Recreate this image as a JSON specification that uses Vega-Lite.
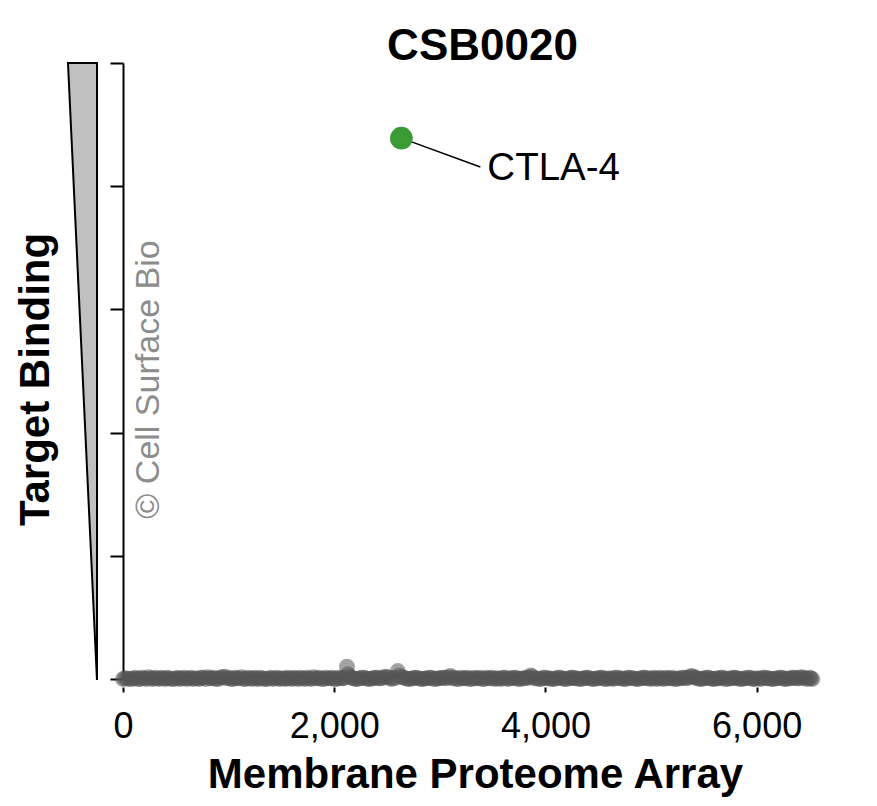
{
  "$schema": "https://vega.github.io/schema/vega-lite/v6.json",
  "width": 697,
  "height": 616,
  "autosize": {"type": "none"},
  "padding": {"left": 123, "top": 63, "right": 57, "bottom": 127},
  "background": "white",
  "title": {
    "text": "CSB0020",
    "font": "Liberation Sans",
    "fontSize": 44,
    "fontWeight": "bold",
    "color": "black",
    "anchor": "middle",
    "frame": "group",
    "baseline": "alphabetic",
    "offset": -45,
    "dx": 11
  },
  "config": {
    "view": {"stroke": null},
    "font": "Liberation Sans",
    "axis": {
      "grid": false,
      "labelFont": "Liberation Sans",
      "titleFont": "Liberation Sans",
      "labelColor": "black",
      "titleColor": "black",
      "tickColor": "black",
      "domainColor": "black",
      "tickWidth": 2,
      "domainWidth": 2
    }
  },
  "datasets": {
    "mpa": [
      {"x": 0, "y": 0}, {"x": 38, "y": 0.005}, {"x": 81, "y": 0}, {"x": 119, "y": 0.01}, {"x": 162, "y": 0},
      {"x": 200, "y": 0.005}, {"x": 243, "y": 0.015}, {"x": 281, "y": 0}, {"x": 320, "y": 0.005}, {"x": 362, "y": 0.01},
      {"x": 401, "y": 0}, {"x": 440, "y": 0.005}, {"x": 483, "y": 0}, {"x": 521, "y": 0.01}, {"x": 560, "y": 0.005},
      {"x": 602, "y": 0}, {"x": 641, "y": 0.01}, {"x": 683, "y": 0.005}, {"x": 722, "y": 0}, {"x": 760, "y": 0.01},
      {"x": 803, "y": 0.015}, {"x": 841, "y": 0.005}, {"x": 880, "y": 0}, {"x": 922, "y": 0.01}, {"x": 961, "y": 0.02},
      {"x": 1003, "y": 0.01}, {"x": 1042, "y": 0}, {"x": 1080, "y": 0.005}, {"x": 1122, "y": 0.015}, {"x": 1161, "y": 0},
      {"x": 1203, "y": 0.005}, {"x": 1242, "y": 0.01}, {"x": 1280, "y": 0}, {"x": 1321, "y": 0.005}, {"x": 1360, "y": 0},
      {"x": 1402, "y": 0.01}, {"x": 1441, "y": 0.005}, {"x": 1483, "y": 0}, {"x": 1522, "y": 0.005}, {"x": 1560, "y": 0.01},
      {"x": 1602, "y": 0}, {"x": 1641, "y": 0.005}, {"x": 1680, "y": 0.01}, {"x": 1722, "y": 0}, {"x": 1761, "y": 0.005},
      {"x": 1802, "y": 0.015}, {"x": 1840, "y": 0.005}, {"x": 1881, "y": 0}, {"x": 1920, "y": 0.01}, {"x": 1962, "y": 0.005},
      {"x": 2001, "y": 0}, {"x": 2040, "y": 0.01}, {"x": 2082, "y": 0.005}, {"x": 2121, "y": 0.1}, {"x": 2130, "y": 0.04},
      {"x": 2148, "y": 0.02}, {"x": 2163, "y": 0.01}, {"x": 2202, "y": 0}, {"x": 2240, "y": 0.005}, {"x": 2281, "y": 0.01},
      {"x": 2320, "y": 0}, {"x": 2362, "y": 0.005}, {"x": 2401, "y": 0.01}, {"x": 2440, "y": 0.005}, {"x": 2483, "y": 0.02},
      {"x": 2521, "y": 0.01}, {"x": 2560, "y": 0.005}, {"x": 2602, "y": 0.065}, {"x": 2615, "y": 0.03}, {"x": 2660, "y": 0.01},
      {"x": 2700, "y": 0}, {"x": 2741, "y": 0.005}, {"x": 2780, "y": 0.01}, {"x": 2822, "y": 0}, {"x": 2861, "y": 0.005},
      {"x": 2900, "y": 0.01}, {"x": 2942, "y": 0}, {"x": 2981, "y": 0.005}, {"x": 3020, "y": 0.01}, {"x": 3062, "y": 0.005},
      {"x": 3101, "y": 0.025}, {"x": 3140, "y": 0.01}, {"x": 3180, "y": 0}, {"x": 3221, "y": 0.005}, {"x": 3260, "y": 0.01},
      {"x": 3302, "y": 0}, {"x": 3341, "y": 0.005}, {"x": 3380, "y": 0.01}, {"x": 3420, "y": 0}, {"x": 3461, "y": 0.005},
      {"x": 3500, "y": 0.01}, {"x": 3542, "y": 0.005}, {"x": 3580, "y": 0}, {"x": 3620, "y": 0.01}, {"x": 3661, "y": 0.005},
      {"x": 3700, "y": 0.01}, {"x": 3741, "y": 0}, {"x": 3780, "y": 0.005}, {"x": 3822, "y": 0.01}, {"x": 3862, "y": 0.03},
      {"x": 3872, "y": 0.02}, {"x": 3900, "y": 0.005}, {"x": 3941, "y": 0}, {"x": 3980, "y": 0.01}, {"x": 4022, "y": 0.005},
      {"x": 4061, "y": 0}, {"x": 4100, "y": 0.005}, {"x": 4141, "y": 0.01}, {"x": 4180, "y": 0}, {"x": 4222, "y": 0.005},
      {"x": 4261, "y": 0.01}, {"x": 4300, "y": 0.005}, {"x": 4342, "y": 0}, {"x": 4381, "y": 0.01}, {"x": 4420, "y": 0.005},
      {"x": 4462, "y": 0}, {"x": 4500, "y": 0.005}, {"x": 4541, "y": 0.01}, {"x": 4580, "y": 0}, {"x": 4622, "y": 0.005},
      {"x": 4661, "y": 0.01}, {"x": 4700, "y": 0.005}, {"x": 4742, "y": 0}, {"x": 4781, "y": 0.01}, {"x": 4820, "y": 0.005},
      {"x": 4862, "y": 0}, {"x": 4900, "y": 0.005}, {"x": 4941, "y": 0.01}, {"x": 4980, "y": 0.005}, {"x": 5022, "y": 0.01},
      {"x": 5061, "y": 0}, {"x": 5100, "y": 0.005}, {"x": 5141, "y": 0.01}, {"x": 5180, "y": 0.005}, {"x": 5222, "y": 0},
      {"x": 5261, "y": 0.005}, {"x": 5300, "y": 0.01}, {"x": 5342, "y": 0.005}, {"x": 5381, "y": 0.025}, {"x": 5420, "y": 0.01},
      {"x": 5462, "y": 0}, {"x": 5500, "y": 0.005}, {"x": 5541, "y": 0.01}, {"x": 5580, "y": 0}, {"x": 5622, "y": 0.005},
      {"x": 5661, "y": 0.01}, {"x": 5700, "y": 0}, {"x": 5742, "y": 0.005}, {"x": 5781, "y": 0.01}, {"x": 5820, "y": 0.005},
      {"x": 5862, "y": 0}, {"x": 5900, "y": 0.005}, {"x": 5941, "y": 0.01}, {"x": 5980, "y": 0}, {"x": 6022, "y": 0.005},
      {"x": 6061, "y": 0.01}, {"x": 6100, "y": 0.005}, {"x": 6141, "y": 0}, {"x": 6180, "y": 0.005}, {"x": 6222, "y": 0.01},
      {"x": 6261, "y": 0}, {"x": 6300, "y": 0.005}, {"x": 6342, "y": 0.01}, {"x": 6381, "y": 0.005}, {"x": 6420, "y": 0.015},
      {"x": 6462, "y": 0.005}, {"x": 6500, "y": 0.01}, {"x": 6528, "y": 0},
      {"x": 19, "y": 0.005}, {"x": 60, "y": 0}, {"x": 100, "y": 0.005}, {"x": 140, "y": 0}, {"x": 181, "y": 0.01},
      {"x": 221, "y": 0}, {"x": 262, "y": 0.005}, {"x": 300, "y": 0.01}, {"x": 341, "y": 0}, {"x": 381, "y": 0.005},
      {"x": 420, "y": 0.01}, {"x": 461, "y": 0}, {"x": 502, "y": 0.005}, {"x": 540, "y": 0}, {"x": 581, "y": 0.01},
      {"x": 621, "y": 0.005}, {"x": 662, "y": 0}, {"x": 702, "y": 0.005}, {"x": 741, "y": 0.01}, {"x": 782, "y": 0},
      {"x": 822, "y": 0.005}, {"x": 860, "y": 0.01}, {"x": 901, "y": 0}, {"x": 941, "y": 0.015}, {"x": 982, "y": 0.005},
      {"x": 1022, "y": 0}, {"x": 1061, "y": 0.01}, {"x": 1101, "y": 0.005}, {"x": 1141, "y": 0}, {"x": 1182, "y": 0.01},
      {"x": 1222, "y": 0}, {"x": 1261, "y": 0.005}, {"x": 1300, "y": 0.01}, {"x": 1340, "y": 0}, {"x": 1381, "y": 0.005},
      {"x": 1421, "y": 0}, {"x": 1462, "y": 0.01}, {"x": 1502, "y": 0.005}, {"x": 1541, "y": 0}, {"x": 1581, "y": 0.005},
      {"x": 1621, "y": 0.01}, {"x": 1660, "y": 0}, {"x": 1701, "y": 0.005}, {"x": 1741, "y": 0.01}, {"x": 1781, "y": 0},
      {"x": 1821, "y": 0.005}, {"x": 1860, "y": 0.01}, {"x": 1900, "y": 0}, {"x": 1941, "y": 0.005}, {"x": 1981, "y": 0.01},
      {"x": 2020, "y": 0}, {"x": 2061, "y": 0.005}, {"x": 2101, "y": 0.01}, {"x": 2182, "y": 0.005}, {"x": 2221, "y": 0},
      {"x": 2260, "y": 0.01}, {"x": 2300, "y": 0.005}, {"x": 2341, "y": 0}, {"x": 2381, "y": 0.01}, {"x": 2420, "y": 0.005},
      {"x": 2461, "y": 0.01}, {"x": 2502, "y": 0.015}, {"x": 2540, "y": 0}, {"x": 2581, "y": 0.01}, {"x": 2640, "y": 0.015},
      {"x": 2680, "y": 0.005}, {"x": 2720, "y": 0}, {"x": 2761, "y": 0.01}, {"x": 2801, "y": 0.005}, {"x": 2841, "y": 0},
      {"x": 2880, "y": 0.005}, {"x": 2921, "y": 0.01}, {"x": 2961, "y": 0}, {"x": 3000, "y": 0.005}, {"x": 3041, "y": 0.01},
      {"x": 3081, "y": 0.015}, {"x": 3120, "y": 0.005}, {"x": 3160, "y": 0}, {"x": 3200, "y": 0.01}, {"x": 3241, "y": 0.005},
      {"x": 3281, "y": 0}, {"x": 3321, "y": 0.01}, {"x": 3360, "y": 0.005}, {"x": 3400, "y": 0}, {"x": 3441, "y": 0.01},
      {"x": 3481, "y": 0.005}, {"x": 3521, "y": 0}, {"x": 3561, "y": 0.005}, {"x": 3600, "y": 0.01}, {"x": 3640, "y": 0},
      {"x": 3681, "y": 0.005}, {"x": 3720, "y": 0.01}, {"x": 3761, "y": 0}, {"x": 3801, "y": 0.005}, {"x": 3842, "y": 0.01},
      {"x": 3920, "y": 0.005}, {"x": 3961, "y": 0}, {"x": 4001, "y": 0.01}, {"x": 4041, "y": 0.005}, {"x": 4080, "y": 0},
      {"x": 4120, "y": 0.01}, {"x": 4161, "y": 0.005}, {"x": 4201, "y": 0}, {"x": 4241, "y": 0.01}, {"x": 4280, "y": 0.005},
      {"x": 4321, "y": 0}, {"x": 4361, "y": 0.005}, {"x": 4400, "y": 0.01}, {"x": 4441, "y": 0}, {"x": 4481, "y": 0.005},
      {"x": 4520, "y": 0.01}, {"x": 4561, "y": 0}, {"x": 4601, "y": 0.005}, {"x": 4641, "y": 0}, {"x": 4680, "y": 0.01},
      {"x": 4721, "y": 0.005}, {"x": 4761, "y": 0}, {"x": 4800, "y": 0.01}, {"x": 4841, "y": 0.005}, {"x": 4881, "y": 0},
      {"x": 4921, "y": 0.01}, {"x": 4960, "y": 0.005}, {"x": 5001, "y": 0}, {"x": 5041, "y": 0.005}, {"x": 5080, "y": 0.01},
      {"x": 5121, "y": 0}, {"x": 5161, "y": 0.005}, {"x": 5201, "y": 0.01}, {"x": 5241, "y": 0}, {"x": 5280, "y": 0.005},
      {"x": 5321, "y": 0.01}, {"x": 5361, "y": 0.015}, {"x": 5401, "y": 0.02}, {"x": 5441, "y": 0.005}, {"x": 5481, "y": 0},
      {"x": 5521, "y": 0.01}, {"x": 5561, "y": 0.005}, {"x": 5601, "y": 0}, {"x": 5641, "y": 0.005}, {"x": 5680, "y": 0.01},
      {"x": 5721, "y": 0}, {"x": 5761, "y": 0.005}, {"x": 5801, "y": 0.01}, {"x": 5841, "y": 0}, {"x": 5881, "y": 0.005},
      {"x": 5921, "y": 0.01}, {"x": 5961, "y": 0}, {"x": 6001, "y": 0.005}, {"x": 6041, "y": 0}, {"x": 6081, "y": 0.01},
      {"x": 6121, "y": 0.005}, {"x": 6161, "y": 0}, {"x": 6201, "y": 0.005}, {"x": 6241, "y": 0.01}, {"x": 6281, "y": 0},
      {"x": 6321, "y": 0.005}, {"x": 6361, "y": 0.01}, {"x": 6401, "y": 0.005}, {"x": 6441, "y": 0.01}, {"x": 6481, "y": 0},
      {"x": 6514, "y": 0.005}
    ],
    "hit": [{"x": 2636, "y": 4.39, "target": "CTLA-4"}],
    "leader": [{"x": 2636, "y": 4.39}, {"x": 3384, "y": 4.156}],
    "label": [{"x": 3450, "y": 4.05, "text": "CTLA-4"}],
    "wedge": [{"y": 5, "xa": -521, "xb": -246}, {"y": 0, "xa": -247, "xb": -246}],
    "mark": [{"x": 341, "y": 2.431, "text": "© Cell Surface Bio"}]
  },
  "layer": [
    {
      "data": {"name": "wedge"},
      "mark": {"type": "area", "orient": "horizontal", "fill": "#c0c0c0", "stroke": "black", "strokeWidth": 2},
      "encoding": {
        "x": {"field": "xa", "type": "quantitative", "title": "Membrane Proteome Array"},
        "x2": {"field": "xb"},
        "y": {"field": "y", "type": "quantitative", "title": "Target Binding"}
      }
    },
    {
      "data": {"name": "mpa"},
      "mark": {"type": "circle", "size": 250, "color": "#555555", "opacity": 0.55, "strokeWidth": 0},
      "encoding": {
        "x": {
          "field": "x",
          "type": "quantitative",
          "title": "Membrane Proteome Array",
          "scale": {"domain": [0, 6600], "nice": false, "zero": false},
          "axis": {
            "values": [0, 2000, 4000, 6000],
            "format": ",.0f",
            "offset": 8,
            "domain": false,
            "tickSize": 5,
            "labelFontSize": 36,
            "labelBaseline": "alphabetic",
            "labelPadding": 45,
            "labelFlush": false,
            "labelOverlap": false,
            "titleFontSize": 42,
            "titleFontWeight": "bold",
            "titleX": 352,
            "titleY": 100,
            "titleBaseline": "alphabetic",
            "titleAlign": "center"
          }
        },
        "y": {
          "field": "y",
          "type": "quantitative",
          "title": "Target Binding",
          "scale": {"domain": [0, 5], "nice": false, "zero": false},
          "axis": {
            "values": [0, 1, 2, 3, 4, 5],
            "labels": false,
            "domain": true,
            "tickSize": 13,
            "titleFontSize": 42,
            "titleFontWeight": "bold",
            "titleAngle": -90,
            "titleX": -75,
            "titleY": 316,
            "titleBaseline": "alphabetic",
            "titleAlign": "center"
          }
        }
      }
    },
    {
      "data": {"name": "leader"},
      "mark": {"type": "line", "color": "black", "strokeWidth": 1.5},
      "encoding": {
        "x": {"field": "x", "type": "quantitative", "title": "Membrane Proteome Array"},
        "y": {"field": "y", "type": "quantitative", "title": "Target Binding"}
      }
    },
    {
      "data": {"name": "hit"},
      "mark": {"type": "circle", "size": 515, "color": "#3a9b35", "opacity": 1, "strokeWidth": 0},
      "encoding": {
        "x": {"field": "x", "type": "quantitative", "title": "Membrane Proteome Array"},
        "y": {"field": "y", "type": "quantitative", "title": "Target Binding"},
        "tooltip": [{"field": "target", "type": "nominal"}]
      }
    },
    {
      "data": {"name": "label"},
      "mark": {"type": "text", "fontSize": 38.5, "align": "left", "baseline": "alphabetic", "color": "black", "font": "Liberation Sans"},
      "encoding": {
        "x": {"field": "x", "type": "quantitative", "title": "Membrane Proteome Array"},
        "y": {"field": "y", "type": "quantitative", "title": "Target Binding"},
        "text": {"field": "text"}
      }
    },
    {
      "data": {"name": "mark"},
      "mark": {"type": "text", "fontSize": 34, "angle": 270, "align": "center", "baseline": "alphabetic", "color": "#8c8c8c", "font": "Liberation Sans"},
      "encoding": {
        "x": {"field": "x", "type": "quantitative", "title": "Membrane Proteome Array"},
        "y": {"field": "y", "type": "quantitative", "title": "Target Binding"},
        "text": {"field": "text"}
      }
    }
  ]
}
